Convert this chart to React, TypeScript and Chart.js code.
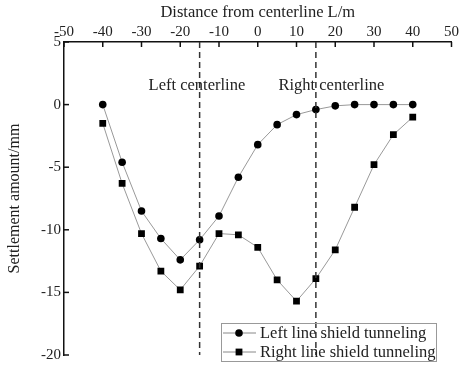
import { useEffect, useRef } from "react";
import { Chart, registerables } from "chart.js";

Chart.register(...registerables);

const distances = [-40, -35, -30, -25, -20, -15, -10, -5, 0, 5, 10, 15, 20, 25, 30, 35, 40];
const leftLine = [0, -4.6, -8.5, -10.7, -12.4, -10.8, -8.9, -5.8, -3.2, -1.6, -0.8, -0.4, -0.1, 0, 0, 0, 0];
const rightLine = [-1.5, -6.3, -10.3, -13.3, -14.8, -12.9, -10.3, -10.4, -11.4, -14.0, -15.7, -13.9, -11.6, -8.2, -4.8, -2.4, -1.0];
const seriesNames = ["Left line shield tunneling", "Right line shield tunneling"];
const centerlines = [-15, 15];
const centerlineLabels = ["Left centerline", "Right centerline"];
const xTitle = "Distance from centerline L/m";
const yTitle = "Settlement amount/mm";
const xRange = [-50, 50, 10];
const yRange = [-20, 5, 5];

const FONT = "'Liberation Serif', 'Times New Roman', serif";

export default function App() {
  const ref = useRef<HTMLCanvasElement | null>(null);

  useEffect(() => {
    document.body.style.margin = "0";
    const canvas = ref.current;
    if (!canvas) return;

    const inwardTicks = {
      id: "inwardTicks",
      afterDraw(chart: any) {
        const { ctx, chartArea, scales } = chart;
        ctx.save();
        ctx.strokeStyle = "#111";
        ctx.lineWidth = 1.5;
        scales.x.ticks.forEach((t: any) => {
          const px = scales.x.getPixelForValue(t.value);
          ctx.beginPath();
          ctx.moveTo(px, chartArea.top);
          ctx.lineTo(px, chartArea.top + 5);
          ctx.stroke();
        });
        scales.y.ticks.forEach((t: any) => {
          const py = scales.y.getPixelForValue(t.value);
          ctx.beginPath();
          ctx.moveTo(chartArea.left, py);
          ctx.lineTo(chartArea.left + 5, py);
          ctx.stroke();
        });
        ctx.restore();
      },
    };

    const labelsAndLegend = {
      id: "labelsAndLegend",
      afterDraw(chart: any) {
        const { ctx, scales } = chart;
        ctx.save();
        // centerline labels
        ctx.font = `16.5px ${FONT}`;
        ctx.fillStyle = "#222";
        ctx.textBaseline = "middle";
        ctx.textAlign = "center";
        const labelOffsets = [-0.7, 4];
        centerlines.forEach((c, i) => {
          const px = scales.x.getPixelForValue(c + labelOffsets[i]);
          const py = scales.y.getPixelForValue(1.5);
          ctx.fillText(centerlineLabels[i], px, py);
        });
        // legend
        const bx = 221, by = 323, bw = 215, bh = 38;
        ctx.strokeStyle = "#999";
        ctx.lineWidth = 1;
        ctx.strokeRect(bx + 0.5, by + 0.5, bw, bh);
        const rows = [by + 10, by + 29];
        rows.forEach((ry, i) => {
          ctx.strokeStyle = "#888";
          ctx.beginPath();
          ctx.moveTo(bx + 2, ry);
          ctx.lineTo(bx + 35, ry);
          ctx.stroke();
          ctx.fillStyle = "#000";
          if (i === 0) {
            ctx.beginPath();
            ctx.arc(bx + 18, ry, 3.8, 0, Math.PI * 2);
            ctx.fill();
          } else {
            ctx.fillRect(bx + 18 - 3.4, ry - 3.4, 6.8, 6.8);
          }
          ctx.fillStyle = "#222";
          ctx.textAlign = "left";
          ctx.font = `16.5px ${FONT}`;
          ctx.fillText(seriesNames[i], bx + 39, ry + 1);
        });
        ctx.restore();
      },
    };

    const toPoints = (ys: number[]) => distances.map((x, i) => ({ x, y: ys[i] }));

    const chart = new Chart(canvas, {
      type: "scatter",
      data: {
        datasets: [
          ...centerlines.map((c) => ({
            label: "centerline",
            data: [
              { x: c, y: yRange[1] },
              { x: c, y: yRange[0] },
            ],
            showLine: true,
            borderColor: "#333",
            borderWidth: 1.5,
            borderDash: [6, 4],
            pointRadius: 0,
          })),
          {
            label: seriesNames[0],
            data: toPoints(leftLine),
            showLine: true,
            borderColor: "#999",
            borderWidth: 1,
            pointStyle: "circle",
            pointRadius: 3.8,
            pointBackgroundColor: "#000",
            pointBorderColor: "#000",
            pointBorderWidth: 0,
          },
          {
            label: seriesNames[1],
            data: toPoints(rightLine),
            showLine: true,
            borderColor: "#999",
            borderWidth: 1,
            pointStyle: "rect",
            pointRadius: 4.8,
            pointBackgroundColor: "#000",
            pointBorderColor: "#000",
            pointBorderWidth: 0,
          },
        ] as any,
      },
      options: {
        responsive: false,
        animation: false,
        devicePixelRatio: 1,
        layout: { padding: { left: 0, top: 0, right: 5, bottom: 9 } },
        plugins: {
          legend: { display: false },
          tooltip: { enabled: false },
        },
        scales: {
          x: {
            type: "linear",
            position: "top",
            min: xRange[0],
            max: xRange[1],
            ticks: {
              stepSize: xRange[2],
              font: { family: FONT, size: 15 },
              color: "#222",
              padding: 1,
            },
            grid: { display: true, drawOnChartArea: false, drawTicks: false },
            border: { display: true, color: "#111", width: 1.5 },
            title: {
              display: true,
              text: xTitle,
              font: { family: FONT, size: 16.5 },
              color: "#222",
              padding: { top: 3, bottom: 0 },
            },
            afterFit(scale: any) {
              scale.height = 42;
            },
          },
          y: {
            type: "linear",
            position: "left",
            min: yRange[0],
            max: yRange[1],
            ticks: {
              stepSize: yRange[2],
              font: { family: FONT, size: 15 },
              color: "#222",
              padding: 3,
            },
            grid: { display: true, drawOnChartArea: false, drawTicks: false },
            border: { display: true, color: "#111", width: 1.5 },
            title: {
              display: true,
              text: yTitle,
              font: { family: FONT, size: 16 },
              color: "#222",
              padding: { top: 5, bottom: 0 },
            },
            afterFit(scale: any) {
              scale.width = 64;
            },
          },
        },
      },
      plugins: [inwardTicks, labelsAndLegend],
    } as any);

    return () => chart.destroy();
  }, []);

  return (
    <canvas
      ref={ref}
      width={460}
      height={367}
      style={{ position: "fixed", left: 0, top: 0, width: 460, height: 367 }}
    />
  );
}
